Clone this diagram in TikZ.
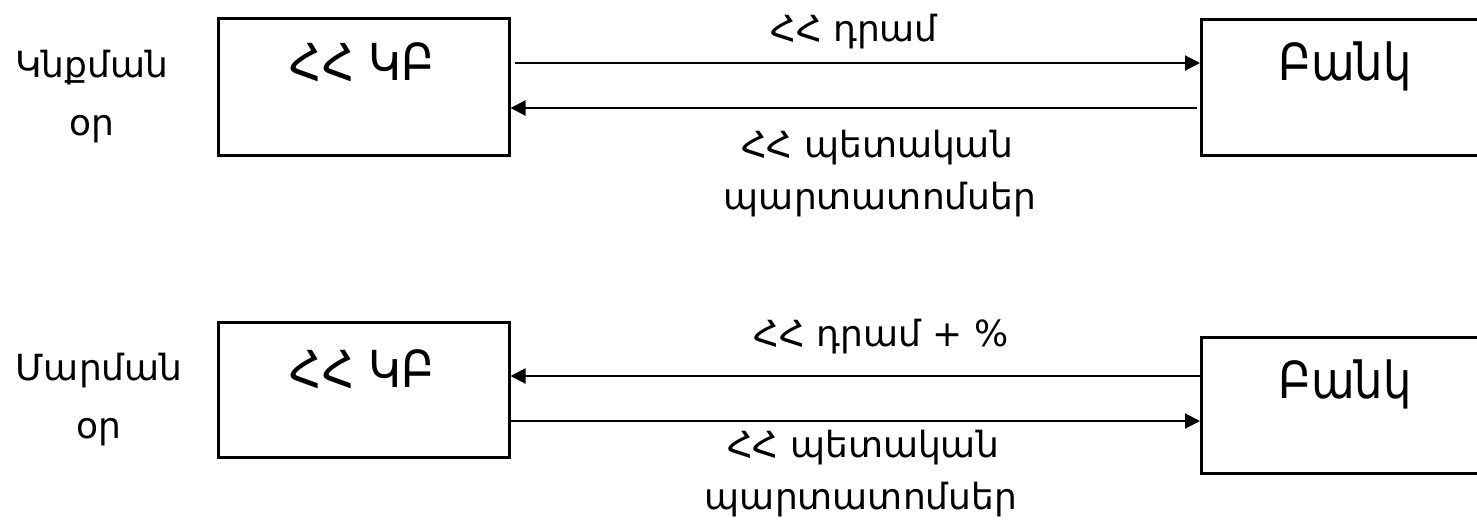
\documentclass[tikz,border=0pt]{standalone}
\usepackage{fontspec}
\setmainfont{DejaVu Sans}
\newfontfamily\boxfont[FakeStretch=0.88]{DejaVu Sans}
\usetikzlibrary{arrows.meta}
\begin{document}
\begin{tikzpicture}[x=1pt,y=-1pt,
  box/.style={draw,line width=2.5pt,minimum width=291pt,inner sep=0pt,anchor=north west},
  boxtext/.style={font=\boxfont\fontsize{51}{60}\selectfont,anchor=base,inner sep=0pt},
  lbl/.style={font=\fontsize{36}{42}\selectfont,anchor=base,inner sep=0pt},
  arr/.style={line width=2pt,-{Triangle[length=15pt,width=15pt]}}]
\useasboundingbox (0,0) rectangle (1477,520);
% boxes
\node[box,minimum height=137pt] (kb1) at (217,17) {};
\node[box,minimum height=136pt] (bank1) at (1200,18) {};
\node[box,minimum height=135pt] (kb2) at (217,321) {};
\node[box,minimum height=136pt] (bank2) at (1200,336) {};
% box texts
\node[boxtext] (kb1t) at (362,80) {ՀՀ ԿԲ};
\node[boxtext] (bank1t) at (1345,80) {Բանկ};
\node[boxtext] (kb2t) at (362,387) {ՀՀ ԿԲ};
\node[boxtext] (bank2t) at (1345,398) {Բանկ};
% side labels
\node[lbl] (d1a) at (92,77) {Կնքման};
\node[lbl] (d1b) at (92,135) {օր};
\node[lbl] (d2a) at (99,380) {Մարման};
\node[lbl] (d2b) at (99,438) {օր};
% arrows top
\draw[arr,shorten <=4pt] ([yshift=-46pt]kb1.north east) -- ([yshift=-45pt]bank1.north west);
\draw[arr,shorten <=3pt] ([yshift=-90pt]bank1.north west) -- ([yshift=-91pt]kb1.north east);
% arrows bottom
\draw[arr] ([yshift=-40pt]bank2.north west) -- ([yshift=-55pt]kb2.north east);
\draw[arr] ([yshift=-100pt]kb2.north east) -- ([yshift=-85pt]bank2.north west);
% arrow labels
\node[lbl] (m1) at (854,41) {ՀՀ դրամ};
\node[lbl] (b1a) at (877,157) {ՀՀ պետական};
\node[lbl] (b1b) at (880,209) {պարտատոմսեր};
\node[lbl] (m2) at (881,346) {ՀՀ դրամ + \%};
\node[lbl] (b2a) at (863,457) {ՀՀ պետական};
\node[lbl] (b2b) at (861,509) {պարտատոմսեր};
\end{tikzpicture}
\end{document}
